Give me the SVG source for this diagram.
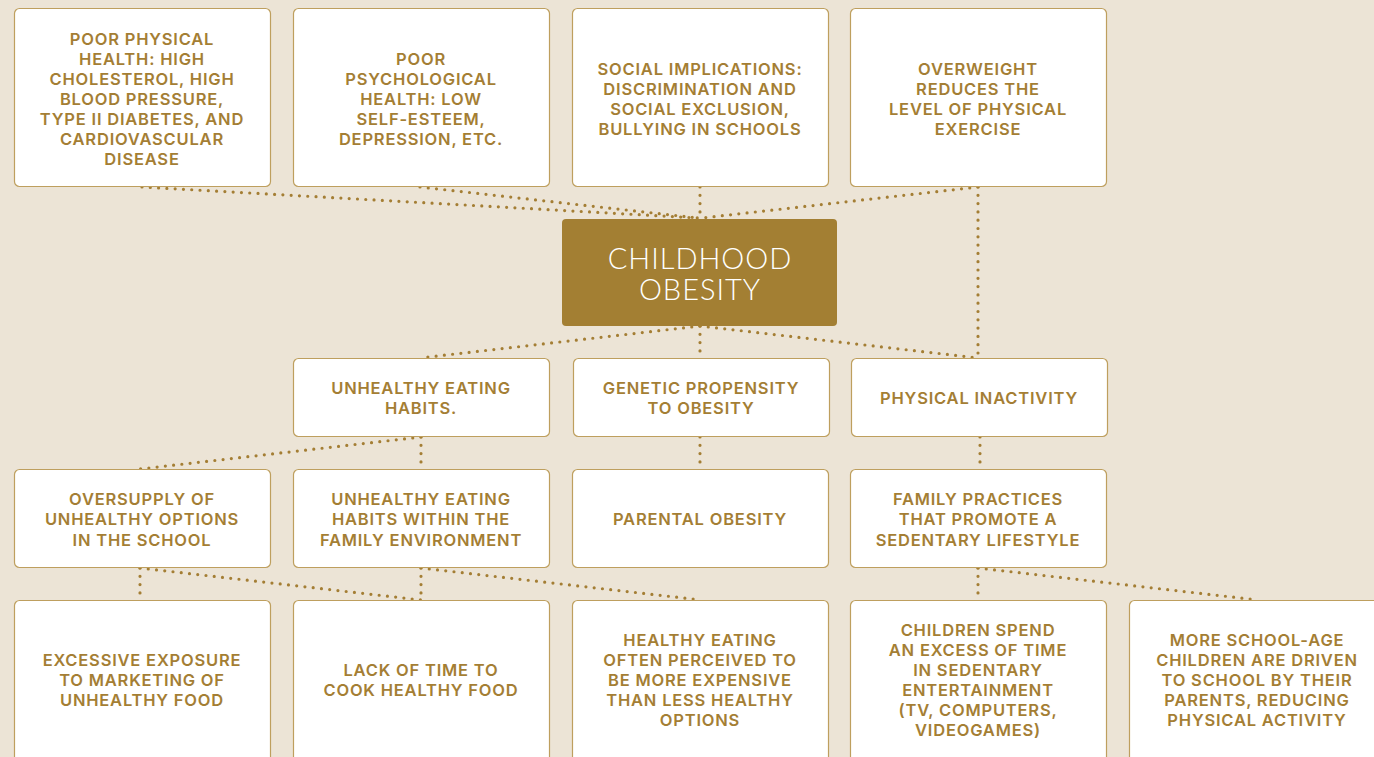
<svg xmlns="http://www.w3.org/2000/svg" width="1374" height="757" viewBox="0 0 1374 757">
<style>
.bg{fill:#ECE4D6}
.box{fill:#FFFFFF;stroke:#BE9F5E;stroke-width:1.2}
.core{fill:#A37F33}
.t{font-family:Inter,"Liberation Sans",sans-serif;font-weight:600;font-size:16.5px;letter-spacing:0.8px;fill:#A47E34;text-anchor:middle}
.c{font-family:Lato,"Open Sans",sans-serif;font-weight:300;font-size:29px;fill:#FFFFFF;text-anchor:middle;letter-spacing:1px}
.dot{fill:none;stroke:#A47E34;stroke-width:3.2;stroke-linecap:round;stroke-dasharray:0 8.3}
</style>
<rect class="bg" x="0" y="0" width="1374" height="757"/>
<g id="connectors">
<line class="dot" x1="142" y1="187" x2="698" y2="218"/>
<line class="dot" x1="420" y1="187" x2="698" y2="218"/>
<line class="dot" x1="700" y1="187" x2="700" y2="218"/>
<line class="dot" x1="978" y1="187" x2="702" y2="218"/>
<line class="dot" x1="978" y1="187" x2="978" y2="357"/>
<line class="dot" x1="700" y1="326" x2="420" y2="358"/>
<line class="dot" x1="700" y1="326" x2="700" y2="358"/>
<line class="dot" x1="700" y1="326" x2="978" y2="358"/>
<line class="dot" x1="421" y1="437" x2="140" y2="469"/>
<line class="dot" x1="421" y1="437" x2="421" y2="469"/>
<line class="dot" x1="700" y1="437" x2="700" y2="469"/>
<line class="dot" x1="980" y1="437" x2="980" y2="469"/>
<line class="dot" x1="140" y1="568" x2="140" y2="600"/>
<line class="dot" x1="140" y1="568" x2="421" y2="600"/>
<line class="dot" x1="421" y1="568" x2="421" y2="600"/>
<line class="dot" x1="421" y1="568" x2="701" y2="600"/>
<line class="dot" x1="978" y1="568" x2="978" y2="600"/>
<line class="dot" x1="978" y1="568" x2="1258" y2="600"/>
</g>
<g id="n-physical-health">
<rect class="box" x="14.5" y="8.5" width="256" height="178" rx="5"/>
<text class="t" x="142" y="45">POOR PHYSICAL</text>
<text class="t" x="142" y="65">HEALTH: HIGH</text>
<text class="t" x="142" y="85">CHOLESTEROL, HIGH</text>
<text class="t" x="142" y="105">BLOOD PRESSURE,</text>
<text class="t" x="142" y="125">TYPE II DIABETES, AND</text>
<text class="t" x="142" y="145">CARDIOVASCULAR</text>
<text class="t" x="142" y="165">DISEASE</text>
</g>
<g id="n-psych-health">
<rect class="box" x="293.5" y="8.5" width="256" height="178" rx="5"/>
<text class="t" x="421" y="65">POOR</text>
<text class="t" x="421" y="85">PSYCHOLOGICAL</text>
<text class="t" x="421" y="105">HEALTH: LOW</text>
<text class="t" x="421" y="125">SELF-ESTEEM,</text>
<text class="t" x="421" y="145">DEPRESSION, ETC.</text>
</g>
<g id="n-social">
<rect class="box" x="572.5" y="8.5" width="256" height="178" rx="5"/>
<text class="t" x="700" y="75">SOCIAL IMPLICATIONS:</text>
<text class="t" x="700" y="95">DISCRIMINATION AND</text>
<text class="t" x="700" y="115">SOCIAL EXCLUSION,</text>
<text class="t" x="700" y="135">BULLYING IN SCHOOLS</text>
</g>
<g id="n-overweight">
<rect class="box" x="850.5" y="8.5" width="256" height="178" rx="5"/>
<text class="t" x="978" y="75">OVERWEIGHT</text>
<text class="t" x="978" y="95">REDUCES THE</text>
<text class="t" x="978" y="115">LEVEL OF PHYSICAL</text>
<text class="t" x="978" y="135">EXERCISE</text>
</g>
<g id="n-childhood-obesity">
<rect class="core" x="562" y="219" width="275" height="107" rx="4"/>
<text class="c" x="700" y="269"><tspan x="700" y="269">CHILDHOOD</tspan><tspan x="700" y="300">OBESITY</tspan></text>
</g>
<g id="n-unhealthy-eating">
<rect class="box" x="293.5" y="358.5" width="256" height="78" rx="5"/>
<text class="t" x="421" y="394">UNHEALTHY EATING</text>
<text class="t" x="421" y="414">HABITS.</text>
</g>
<g id="n-genetic">
<rect class="box" x="573.5" y="358.5" width="256" height="78" rx="5"/>
<text class="t" x="701" y="394">GENETIC PROPENSITY</text>
<text class="t" x="701" y="414">TO OBESITY</text>
</g>
<g id="n-inactivity">
<rect class="box" x="851.5" y="358.5" width="256" height="78" rx="5"/>
<text class="t" x="979" y="404">PHYSICAL INACTIVITY</text>
</g>
<g id="n-oversupply">
<rect class="box" x="14.5" y="469.5" width="256" height="98" rx="5"/>
<text class="t" x="142" y="505">OVERSUPPLY OF</text>
<text class="t" x="142" y="525">UNHEALTHY OPTIONS</text>
<text class="t" x="142" y="546">IN THE SCHOOL</text>
</g>
<g id="n-family-eating">
<rect class="box" x="293.5" y="469.5" width="256" height="98" rx="5"/>
<text class="t" x="421" y="505">UNHEALTHY EATING</text>
<text class="t" x="421" y="525">HABITS WITHIN THE</text>
<text class="t" x="421" y="546">FAMILY ENVIRONMENT</text>
</g>
<g id="n-parental">
<rect class="box" x="572.5" y="469.5" width="256" height="98" rx="5"/>
<text class="t" x="700" y="525">PARENTAL OBESITY</text>
</g>
<g id="n-family-practices">
<rect class="box" x="850.5" y="469.5" width="256" height="98" rx="5"/>
<text class="t" x="978" y="505">FAMILY PRACTICES</text>
<text class="t" x="978" y="525">THAT PROMOTE A</text>
<text class="t" x="978" y="546">SEDENTARY LIFESTYLE</text>
</g>
<g id="n-marketing">
<rect class="box" x="14.5" y="600.5" width="256" height="180" rx="5"/>
<text class="t" x="142" y="666">EXCESSIVE EXPOSURE</text>
<text class="t" x="142" y="686">TO MARKETING OF</text>
<text class="t" x="142" y="706">UNHEALTHY FOOD</text>
</g>
<g id="n-lack-time">
<rect class="box" x="293.5" y="600.5" width="256" height="180" rx="5"/>
<text class="t" x="421" y="676">LACK OF TIME TO</text>
<text class="t" x="421" y="696">COOK HEALTHY FOOD</text>
</g>
<g id="n-expensive">
<rect class="box" x="572.5" y="600.5" width="256" height="180" rx="5"/>
<text class="t" x="700" y="646">HEALTHY EATING</text>
<text class="t" x="700" y="666">OFTEN PERCEIVED TO</text>
<text class="t" x="700" y="686">BE MORE EXPENSIVE</text>
<text class="t" x="700" y="706">THAN LESS HEALTHY</text>
<text class="t" x="700" y="726">OPTIONS</text>
</g>
<g id="n-sedentary">
<rect class="box" x="850.5" y="600.5" width="256" height="180" rx="5"/>
<text class="t" x="978" y="636">CHILDREN SPEND</text>
<text class="t" x="978" y="656">AN EXCESS OF TIME</text>
<text class="t" x="978" y="676">IN SEDENTARY</text>
<text class="t" x="978" y="696">ENTERTAINMENT</text>
<text class="t" x="978" y="716">(TV, COMPUTERS,</text>
<text class="t" x="978" y="736">VIDEOGAMES)</text>
</g>
<g id="n-driven">
<rect class="box" x="1129.5" y="600.5" width="256" height="180" rx="5"/>
<text class="t" x="1257" y="646">MORE SCHOOL-AGE</text>
<text class="t" x="1257" y="666">CHILDREN ARE DRIVEN</text>
<text class="t" x="1257" y="686">TO SCHOOL BY THEIR</text>
<text class="t" x="1257" y="706">PARENTS, REDUCING</text>
<text class="t" x="1257" y="726">PHYSICAL ACTIVITY</text>
</g>
</svg>
